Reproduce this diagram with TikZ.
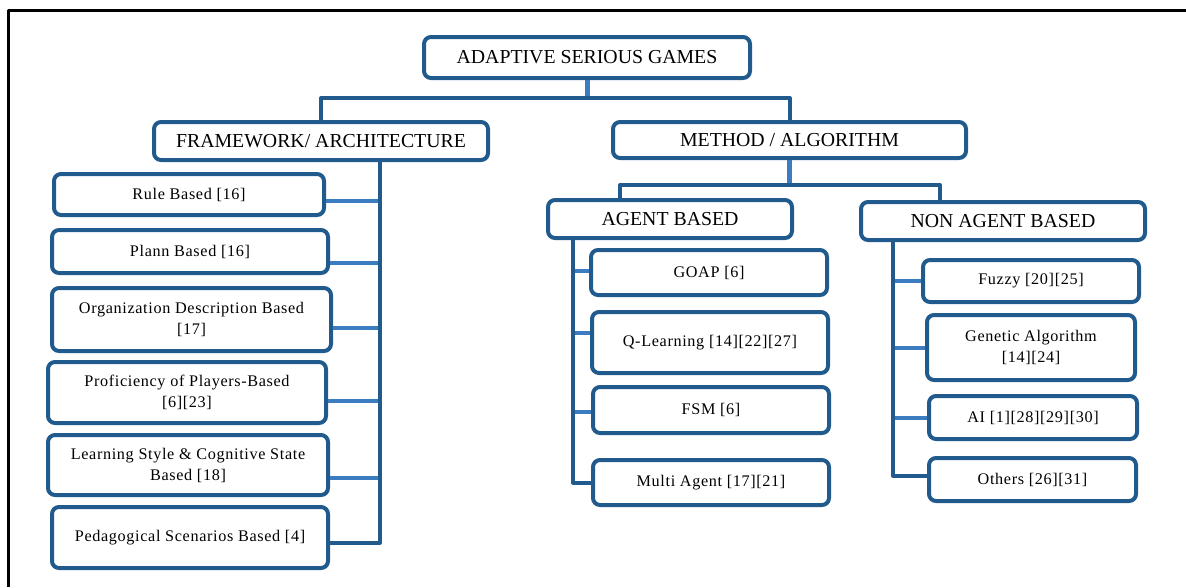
\documentclass[tikz,border=0pt]{standalone}
\usepackage{fontspec}
\setmainfont{Liberation Serif}
\newfontfamily\spacedfont[LetterSpace=4]{Liberation Serif}
\definecolor{boxblue}{RGB}{33,90,140}
\definecolor{linkblue}{RGB}{59,125,192}
\tikzset{
	leaf/.style={draw=boxblue, line width=4pt, rounded corners=7pt, inner sep=0pt, align=center, font=\spacedfont\fontsize{16.2}{21}\selectfont},
	head/.style={leaf, font=\fontsize{19.8}{22}\selectfont},
	trunk/.style={draw=boxblue, line width=4pt},
	branch/.style={draw=linkblue, line width=4pt},
	stem/.style={draw=linkblue, line width=5pt}
}
\begin{document}
\begin{tikzpicture}[x=1pt, y=-1pt, line join=round]
	\useasboundingbox (0,0) rectangle (1186,587);
	\draw[black, line width=3pt] (8,587) -- (8,10) -- (1186,10);
	% top levels
	\node[head, minimum width=326, minimum height=41] (root) at (587,57.5) {ADAPTIVE SERIOUS GAMES};
	\node[head, minimum width=334, minimum height=38] (fw) at (321,141) {FRAMEWORK/ ARCHITECTURE};
	\node[head, minimum width=353, minimum height=36] (meth) at (789.5,140) {METHOD / ALGORITHM};
	\node[head, minimum width=244, minimum height=38] (ag) at (670,219) {AGENT BASED};
	\node[head, minimum width=284, minimum height=38] (nag) at (1003,221) {NON AGENT BASED};
	% framework leaves
	\node[leaf, minimum width=270, minimum height=41] (rule) at (189,194.5) {Rule Based [16]};
	\node[leaf, minimum width=276, minimum height=43] (plann) at (190,251.5) {Plann Based [16]};
	\node[leaf, minimum width=279, minimum height=63] (org) at (191.5,319.5) {Organization Description Based\\{[17]}};
	\node[leaf, minimum width=278, minimum height=61] (prof) at (187,392.5) {Proficiency of Players-Based\\{[6][23]}};
	\node[leaf, minimum width=280, minimum height=60] (learn) at (188,465) {Learning Style \& Cognitive State\\Based [18]};
	\node[leaf, minimum width=276, minimum height=61] (ped) at (190,537.5) {Pedagogical Scenarios Based [4]};
	% agent leaves
	\node[leaf, minimum width=236, minimum height=45] (goap) at (709,272.5) {GOAP [6]};
	\node[leaf, minimum width=236, minimum height=61] (qlearn) at (710,342.5) {Q-Learning [14][22][27]};
	\node[leaf, minimum width=236, minimum height=46] (fsm) at (711,410) {FSM [6]};
	\node[leaf, minimum width=236, minimum height=45] (multi) at (711,482.5) {Multi Agent [17][21]};
	% non agent leaves
	\node[leaf, minimum width=216, minimum height=42] (fuzzy) at (1031,281) {Fuzzy [20][25]};
	\node[leaf, minimum width=208, minimum height=65] (genetic) at (1031,347.5) {Genetic Algorithm\\{[14][24]}};
	\node[leaf, minimum width=208, minimum height=43] (ai) at (1033,417.5) {AI [1][28][29][30]};
	\node[leaf, minimum width=207, minimum height=43] (others) at (1032.5,479.5) {Others [26][31]};
	% links between levels
	\draw[stem] (root.south) -- ++(0,18);
	\draw[trunk] (fw.north) -- ++(0,-22) -| (meth.north);
	\draw[stem] (meth.south) -- ++(0,25);
	\draw[trunk] ([xshift=-50pt]ag.north) -- ++(0,-13) -| ([xshift=-63pt]nag.north);
	% trunks
	\coordinate (fwt) at ([xshift=59pt]fw.south);
	\coordinate (agt) at ([xshift=-97pt]ag.south);
	\coordinate (nagt) at ([xshift=-110pt]nag.south);
	\foreach \n/\d in {rule/-6.5, plann/-11.5, org/-8.5, prof/-8.5, learn/-13}
		\draw[branch] ([yshift=\d pt]\n.east) -- ([yshift=\d pt]\n.east -| fwt);
	\foreach \n/\d in {goap/2, qlearn/10, fsm/-2}
		\draw[branch] ([yshift=\d pt]\n.west) -- ([yshift=\d pt]\n.west -| agt);
	\foreach \n in {fuzzy, genetic, ai}
		\draw[branch] (\n.west) -- (\n.west -| nagt);
	\draw[trunk] (fwt) |- ([yshift=-5pt]ped.east);
	\draw[trunk] (agt) |- (multi.west);
	\draw[trunk] (nagt) |- ([yshift=4pt]others.west);
\end{tikzpicture}
\end{document}
